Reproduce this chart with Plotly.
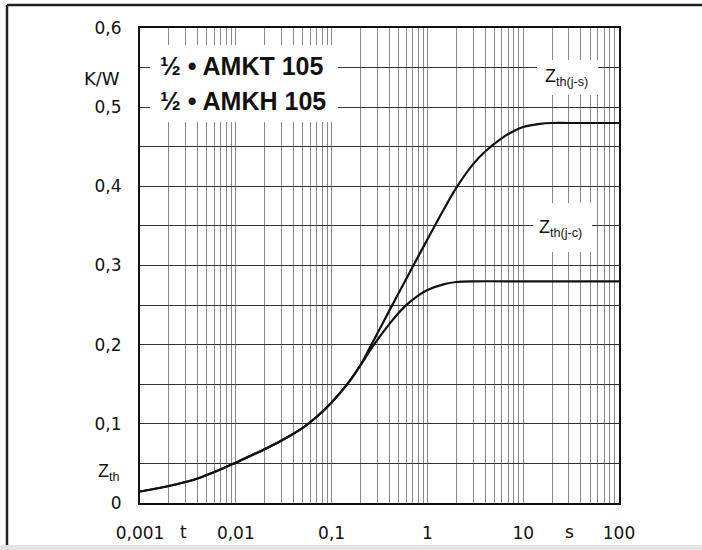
import plotly.graph_objects as go

# ---- data ----
t_js = [0.001, 0.002, 0.004, 0.007, 0.01, 0.02, 0.03, 0.05, 0.07, 0.1, 0.15, 0.2,
        0.25, 0.3, 0.4, 0.5, 0.7, 1.0, 1.5, 2, 3, 4, 6, 8, 10, 15, 20, 30, 100]
z_js = [0.0145, 0.0215, 0.031, 0.0425, 0.051, 0.068, 0.079, 0.095, 0.109, 0.127, 0.152, 0.174,
        0.196, 0.214, 0.243, 0.265, 0.298, 0.333, 0.372, 0.398, 0.428, 0.444, 0.461, 0.47, 0.475, 0.479, 0.48, 0.48, 0.48]

t_jc = [0.001, 0.002, 0.004, 0.007, 0.01, 0.02, 0.03, 0.05, 0.07, 0.1, 0.15, 0.2,
        0.25, 0.3, 0.4, 0.5, 0.6, 0.8, 1.0, 1.5, 2, 3, 10, 100]
z_jc = [0.0145, 0.0215, 0.031, 0.0425, 0.051, 0.068, 0.079, 0.095, 0.109, 0.127, 0.152, 0.174,
        0.192, 0.206, 0.226, 0.24, 0.25, 0.262, 0.269, 0.2765, 0.2792, 0.28, 0.28, 0.28]

x_decades = [0.001, 0.01, 0.1, 1, 10, 100]
x_tick_labels = ["0,001", "0,01", "0,1", "1", "10", "100"]
y_grid = [0, 0.05, 0.1, 0.15, 0.2, 0.25, 0.3, 0.35, 0.4, 0.45, 0.5, 0.55, 0.6]
y_tick_labels = ["0", "", "0,1", "", "0,2", "", "0,3", "", "0,4", "", "0,5", "", "0,6"]

title_lines = ["½ • AMKT 105", "½ • AMKH 105"]

# ---- layout geometry ----
W, H = 702, 550
L, R, T, B = 140, 619, 28, 503


def px(x):
    return (x - L) / (R - L)


def py(y):
    return (B - y) / (B - T)


x_grid, x_text = [], []
for d, lab in zip(x_decades, x_tick_labels):
    mults = range(1, 10) if d < 100 else [1]
    for m in mults:
        x_grid.append(m * d)
        x_text.append(lab if m == 1 else "")

FONT = "Liberation Sans, Arial, Helvetica, sans-serif"
TFONT = "DejaVu Sans, Verdana, sans-serif"

fig = go.Figure()
for tx, zy in [(t_js, z_js), (t_jc, z_jc)]:
    fig.add_trace(go.Scatter(x=tx, y=zy, mode="lines",
                             line=dict(color="#111", width=2.2, shape="spline", smoothing=0.8),
                             hoverinfo="skip", showlegend=False))

fig.update_xaxes(type="log", range=[-3, 2], tickmode="array", tickvals=x_grid, ticktext=x_text,
                 showgrid=True, gridcolor="#8a8a8a", gridwidth=1, showline=True, linecolor="#111", linewidth=2,
                 mirror=True, ticks="", zeroline=False, ticklabelstandoff=14, automargin=False,
                 tickfont=dict(size=17, color="#111", family=TFONT))
fig.update_yaxes(range=[0, 0.6], tickmode="array", tickvals=y_grid, ticktext=y_tick_labels,
                 showgrid=True, gridcolor="#333", gridwidth=1, showline=True, linecolor="#111", linewidth=2,
                 mirror=True, ticks="", zeroline=False, ticklabelstandoff=13, automargin=False,
                 tickfont=dict(size=17, color="#111", family=TFONT))

shapes = []
# white boxes behind labels
for (x0, y0, x1, y1) in [(150, 45, 338, 122), (537, 60, 598, 95), (533, 203, 592, 252)]:
    shapes.append(dict(type="rect", xref="paper", yref="paper", x0=px(x0), x1=px(x1), y0=py(y1), y1=py(y0),
                       fillcolor="white", line=dict(width=0), layer="above"))
# outer frame
shapes.append(dict(type="line", xref="paper", yref="paper", x0=px(7), x1=px(702), y0=py(5), y1=py(5),
                   line=dict(color="#222", width=2.5)))
shapes.append(dict(type="line", xref="paper", yref="paper", x0=px(7), x1=px(7), y0=py(5), y1=py(546),
                   line=dict(color="#222", width=2.5)))
shapes.append(dict(type="rect", xref="paper", yref="paper", x0=px(0), x1=px(702), y0=py(550), y1=py(545),
                   fillcolor="#e4e4e4", line=dict(width=0)))

ann = []
for i, txt in enumerate(title_lines):
    ann.append(dict(text="<b>" + txt + "</b>", xref="paper", yref="paper", x=px(158), y=py(66 + 35 * i),
                    xanchor="left", yanchor="middle", showarrow=False, font=dict(size=25, color="#111", family=FONT)))
ann.append(dict(text="Z<sub>th(j-s)</sub>", xref="paper", yref="paper", x=px(543), y=py(77),
                xanchor="left", yanchor="middle", showarrow=False, font=dict(size=18, color="#111", family=FONT)))
ann.append(dict(text="Z<sub>th(j-c)</sub>", xref="paper", yref="paper", x=px(537), y=py(229),
                xanchor="left", yanchor="middle", showarrow=False, font=dict(size=18, color="#111", family=FONT)))
ann.append(dict(text="K/W", xref="paper", yref="paper", x=px(122), y=py(78),
                xanchor="right", yanchor="middle", showarrow=False, font=dict(size=18, color="#111", family=TFONT)))
ann.append(dict(text="Z<sub>th</sub>", xref="paper", yref="paper", x=px(122), y=py(472),
                xanchor="right", yanchor="middle", showarrow=False, font=dict(size=18, color="#111", family=FONT)))
ann.append(dict(text="t", xref="paper", yref="paper", x=px(183), y=py(532),
                xanchor="center", yanchor="middle", showarrow=False, font=dict(size=17, color="#111", family=TFONT)))
ann.append(dict(text="s", xref="paper", yref="paper", x=px(569), y=py(532),
                xanchor="center", yanchor="middle", showarrow=False, font=dict(size=17, color="#111", family=TFONT)))

fig.update_layout(width=W, height=H, margin=dict(l=L, r=W - R, t=T, b=H - B, pad=0, autoexpand=False),
                  paper_bgcolor="white", plot_bgcolor="white", shapes=shapes, annotations=ann,
                  font=dict(family=FONT, color="#111"), showlegend=False)

fig.write_html("out.html")
